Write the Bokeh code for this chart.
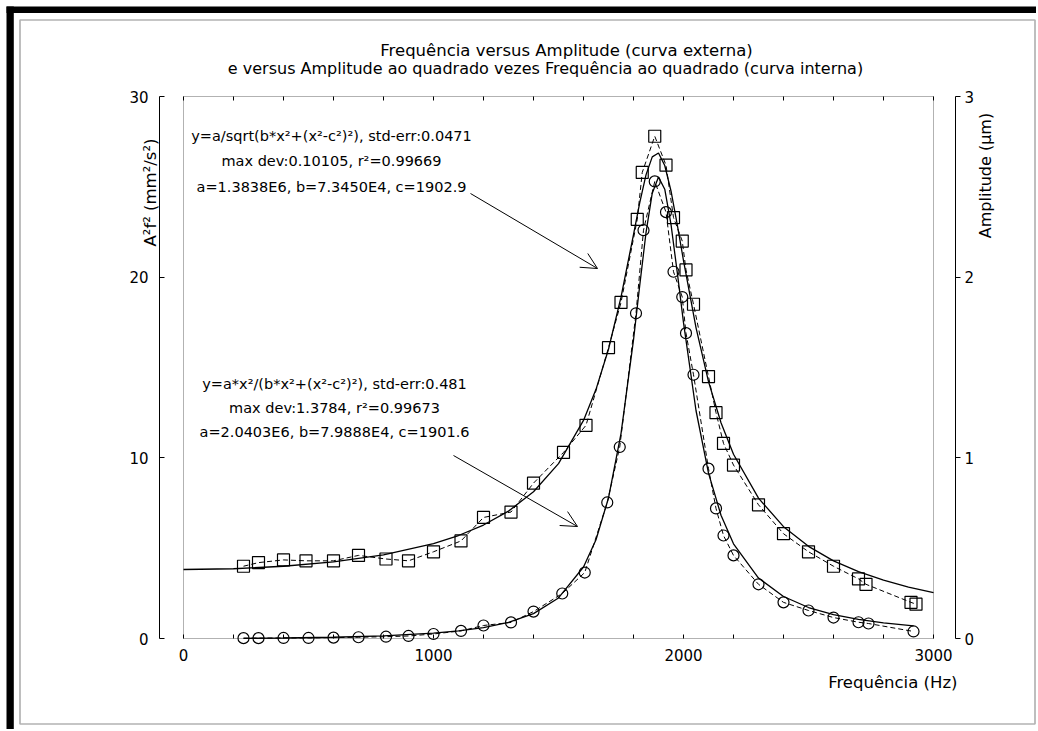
import math
from bokeh.plotting import figure
from bokeh.models import (Range1d, LinearAxis, FixedTicker, BoxAnnotation, Label,
                          Arrow, OpenHead)
from bokeh.embed import file_html
from bokeh.resources import INLINE

# ---------------- data ----------------
# outer curve: Frequency (Hz) vs Amplitude (um)  -> squares, right axis
freq_sq = [240, 300, 400, 490, 600, 700, 810, 900, 1000, 1110, 1200, 1310, 1400,
           1520, 1610, 1700, 1750, 1815, 1835, 1885, 1930, 1960, 1995, 2010, 2040,
           2100, 2130, 2160, 2200, 2300, 2400, 2500, 2600, 2700, 2730, 2910, 2930]
amp_sq = [0.40, 0.42, 0.435, 0.43, 0.43, 0.46, 0.44, 0.43, 0.48, 0.54, 0.67, 0.70, 0.86,
          1.03, 1.18, 1.61, 1.86, 2.32, 2.58, 2.78, 2.62, 2.33, 2.20, 2.04, 1.85,
          1.45, 1.25, 1.08, 0.96, 0.74, 0.58, 0.48, 0.40, 0.33, 0.30, 0.20, 0.19]

# inner curve: Frequency (Hz) vs A^2 f^2 (mm^2/s^2) -> circles, left axis
freq_ci = [240, 300, 400, 500, 600, 700, 810, 900, 1000, 1110, 1200, 1310, 1400,
           1515, 1605, 1695, 1745, 1810, 1840, 1885, 1930, 1960, 1995, 2010, 2040,
           2100, 2130, 2160, 2200, 2300, 2400, 2500, 2600, 2700, 2740, 2920]
a2f2_ci = [0.02, 0.02, 0.03, 0.03, 0.05, 0.07, 0.10, 0.14, 0.25, 0.42, 0.72, 0.89, 1.49,
           2.49, 3.65, 7.53, 10.6, 18.0, 22.6, 25.3, 23.6, 20.3, 18.9, 16.9, 14.6,
           9.4, 7.2, 5.7, 4.6, 3.0, 2.0, 1.55, 1.16, 0.90, 0.83, 0.39]

# fitted curves as drawn
fit_amp_x = [0, 200, 400, 600, 800, 1000, 1100, 1200, 1300, 1400, 1500, 1600, 1650,
             1700, 1750, 1800, 1825, 1850, 1875, 1900, 1925, 1950, 1975, 2000, 2050,
             2100, 2150, 2200, 2300, 2400, 2500, 2600, 2700, 2800, 2900, 3000]
fit_amp_y = [0.382, 0.386, 0.400, 0.424, 0.463, 0.525, 0.570, 0.628, 0.705, 0.812,
             0.968, 1.207, 1.379, 1.601, 1.889, 2.236, 2.413, 2.566, 2.666, 2.687,
             2.618, 2.477, 2.291, 2.092, 1.721, 1.422, 1.194, 1.020, 0.777, 0.619,
             0.510, 0.430, 0.370, 0.323, 0.285, 0.254]
fit_a2f2_x = [240, 400, 600, 800, 1000, 1100, 1200, 1300, 1400, 1500, 1600, 1650,
              1700, 1750, 1800, 1825, 1850, 1875, 1900, 1925, 1950, 1975, 2000, 2050,
              2100, 2150, 2200, 2300, 2400, 2500, 2600, 2700, 2800, 2920]
fit_a2f2_y = [0.009, 0.027, 0.069, 0.147, 0.295, 0.419, 0.606, 0.897, 1.379, 2.244,
              3.958, 5.467, 7.778, 11.34, 16.52, 19.55, 22.46, 24.65, 25.54, 24.87,
              22.92, 20.27, 17.48, 12.62, 9.157, 6.824, 5.240, 3.347, 2.324, 1.715,
              1.323, 1.056, 0.866, 0.702]

x_ticks = [0, 1000, 2000, 3000]
x_minor_ticks = [200, 400, 600, 800, 1200, 1400, 1600, 1800, 2200, 2400, 2600, 2800]
left_ticks = [0, 10, 20, 30]
right_ticks = [0, 1, 2, 3]

title_lines = ["Frequência versus Amplitude (curva externa)",
               "e versus Amplitude ao quadrado vezes Frequência ao quadrado (curva interna)"]
eq_outer = ["y=a/sqrt(b*x²+(x²-c²)²), std-err:0.0471",
            "max dev:0.10105, r²=0.99669",
            "a=1.3838E6, b=7.3450E4, c=1902.9"]
eq_inner = ["y=a*x²/(b*x²+(x²-c²)²), std-err:0.481",
            "max dev:1.3784, r²=0.99673",
            "a=2.0403E6, b=7.9888E4, c=1901.6"]
x_label = "Frequência (Hz)"
left_label = "A²f² (mm²/s²)"
right_label = "Amplitude (µm)"

FONT = "DejaVu Sans"

# ---------------- figure ----------------
# The frame fills the whole canvas; ranges are chosen so that 0..3000 Hz and
# 0..30 land on the plot box, the axes are placed with fixed_location.
W, H = 1036, 729
PX0, PXS = 183.0, 0.25          # x pixel of 0 Hz, pixels per Hz
PY0, PYS = 638.0, 542.0 / 30.0  # y pixel of 0, pixels per unit (left axis)
xr = Range1d((0 - PX0) / PXS, (W - PX0) / PXS)
yr = Range1d((PY0 - H) / PYS, PY0 / PYS)

p = figure(width=W, height=H, output_backend="svg", toolbar_location=None, tools="",
           x_range=xr, y_range=yr, min_border=0,
           x_axis_location=None, y_axis_location=None)
p.title.visible = False
p.extra_y_ranges = {"amp": Range1d(yr.start / 10.0, yr.end / 10.0)}
p.grid.visible = False
p.outline_line_color = None
p.background_fill_color = "white"
p.border_fill_color = "white"


def hz(px):
    return (px - PX0) / PXS


def vy(py):
    return (PY0 - py) / PYS


# bottom axis
xa = LinearAxis(ticker=FixedTicker(ticks=x_ticks, minor_ticks=x_minor_ticks),
                fixed_location=0, bounds=(0, 3000))
xa.axis_line_color = None
xa.major_tick_in = 4
xa.major_tick_out = 0
xa.minor_tick_in = 4
xa.minor_tick_out = 0
xa.major_label_standoff = 10
xa.major_label_text_font = FONT
xa.major_label_text_font_size = "15px"
xa.major_label_text_color = "black"
p.add_layout(xa, "below")

# top axis (ticks only)
ta = LinearAxis(ticker=FixedTicker(ticks=x_ticks, minor_ticks=x_minor_ticks),
                fixed_location=30, bounds=(0, 3000))
ta.axis_line_color = None
ta.major_tick_in = 4
ta.major_tick_out = 0
ta.minor_tick_in = 4
ta.minor_tick_out = 0
ta.major_label_text_font_size = "0px"
ta.major_label_text_color = None
p.add_layout(ta, "above")

# left axis (offset from the box)
ya = LinearAxis(ticker=FixedTicker(ticks=left_ticks), fixed_location=hz(159),
                bounds=(0, 30))
ya.axis_line_color = "black"
ya.major_tick_in = 5
ya.major_tick_out = 0
ya.minor_tick_line_color = None
ya.major_label_standoff = 11
ya.major_label_text_font = FONT
ya.major_label_text_font_size = "15px"
ya.major_label_text_color = "black"
p.add_layout(ya, "left")

# right axis (offset from the box)
ra = LinearAxis(y_range_name="amp", ticker=FixedTicker(ticks=right_ticks),
                fixed_location=hz(955), bounds=(0, 3))
ra.axis_line_color = "black"
ra.major_tick_in = 0
ra.major_tick_out = 5
ra.minor_tick_line_color = None
ra.major_label_standoff = 4
ra.major_label_text_font = FONT
ra.major_label_text_font_size = "15px"
ra.major_label_text_color = "black"
p.add_layout(ra, "right")

# inner plot box
p.add_layout(BoxAnnotation(left=0, right=3000, bottom=0, top=30, fill_color=None,
                           line_color="black", line_width=1))

# outer decorations of the picture
p.add_layout(BoxAnnotation(left=hz(6), right=xr.end, top=vy(6), bottom=vy(12.5),
                           fill_color="black", fill_alpha=1, line_color=None))
p.add_layout(BoxAnnotation(left=hz(6), right=hz(13.3), top=vy(6), bottom=yr.start,
                           fill_color="black", fill_alpha=1, line_color=None))
p.add_layout(BoxAnnotation(left=hz(19.5), right=hz(1034.5), top=vy(19.5), bottom=vy(723.5),
                           fill_color=None, line_color="black", line_width=1.7))

# fitted curves
p.line(fit_amp_x, fit_amp_y, y_range_name="amp", line_color="black", line_width=1.3)
p.line(fit_a2f2_x, fit_a2f2_y, line_color="black", line_width=1.3)

# data (dashed connectors + markers)
p.line(freq_sq, amp_sq, y_range_name="amp", line_color="black", line_width=1,
       line_dash="5 3")
p.scatter(freq_sq, amp_sq, y_range_name="amp", marker="square", size=12,
          fill_color=None, line_color="black", line_width=1.2)
p.line(freq_ci, a2f2_ci, line_color="black", line_width=1, line_dash="5 3")
p.scatter(freq_ci, a2f2_ci, marker="circle", size=11, fill_color=None,
          line_color="black", line_width=1.2)

# arrows
p.add_layout(Arrow(x_start=hz(470), y_start=vy(193), x_end=hz(597), y_end=vy(268),
                   line_color="black", line_width=1,
                   end=OpenHead(size=16, line_color="black", line_width=1)))
p.add_layout(Arrow(x_start=hz(453), y_start=vy(455), x_end=hz(577), y_end=vy(526),
                   line_color="black", line_width=1,
                   end=OpenHead(size=16, line_color="black", line_width=1)))


# texts
def lab(px, py, t, size="14.5px", align="center", angle=0.0):
    p.add_layout(Label(x=hz(px), y=vy(py), text=t, text_font=FONT, text_font_size=size,
                       text_align=align, text_baseline="middle", text_color="black",
                       angle=angle))


lab(566, 50, title_lines[0], "16.5px")
lab(545, 68, title_lines[1], "16px")
for t, py in zip(eq_outer, [135, 160, 186]):
    lab(331, py, t)
for t, py in zip(eq_inner, [383, 407, 431]):
    lab(334, py, t)
lab(957, 682, x_label, "16.5px", align="right")
lab(150, 192, left_label, "16.5px", angle=math.pi / 2)
lab(985, 175, right_label, "16px", angle=math.pi / 2)

open("out.html", "w").write(file_html(p, INLINE))
